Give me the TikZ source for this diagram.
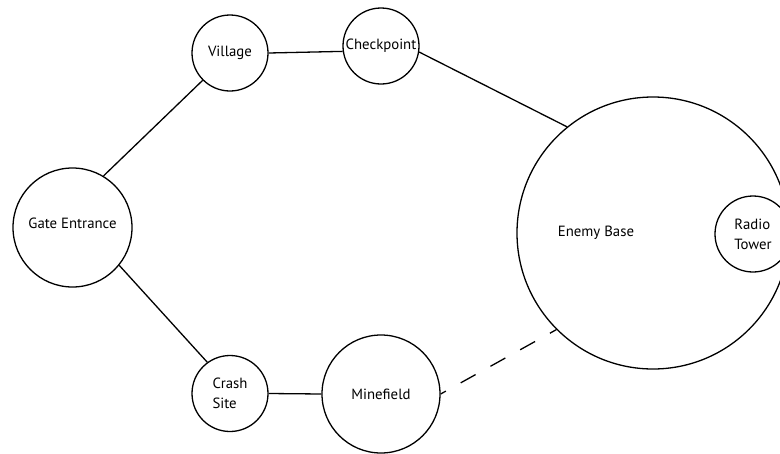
\documentclass[tikz,border=0pt]{standalone}
\usepackage{fontspec}
\setmainfont{PT Sans}
\begin{document}
\begin{tikzpicture}[x=1pt,y=-1pt,
  place/.style={circle,draw,line width=1.3pt,inner sep=0pt,align=left,font=\fontsize{14.8}{20}\selectfont},
  link/.style={line width=1.3pt},
  lbl/.style={inner sep=0pt,font=\fontsize{14.8}{20}\selectfont}]
\useasboundingbox (0,0) rectangle (780,453);
\clip (0,0) rectangle (780,453);
\node[place,minimum size=119pt] (gate) at (72.5,227.5) {};
\node[lbl] (gatelbl) at (72.5,223) {Gate Entrance};
\node[place,minimum size=76pt] (village) at (230,53) {Village};
\node[place,minimum size=76pt] (check) at (381,46) {Checkpoint};
\node[place,minimum size=76pt] (crash) at (230,393.5) {Crash\\Site};
\node[place,minimum size=118pt] (mine) at (381,394) {Minefield};
\node[place,minimum size=272pt] (base) at (653,233) {};
\node[lbl] (baselbl) at (596,233) {Enemy Base};
\node[place,minimum size=76pt] (radio) at (753,234) {Radio\\Tower};
\draw[link] (gate.59) -- (village.225);
\draw[link] (gate.321) -- (crash.126);
\draw[link] (village.east) -- (check.188);
\draw[link] (check.351) -- (base.129);
\draw[link] (crash.east) -- (mine.west);
\draw[link,dash pattern=on 17pt off 17pt,dash phase=11pt] (mine.0) -- (base.225);
\end{tikzpicture}
\end{document}
